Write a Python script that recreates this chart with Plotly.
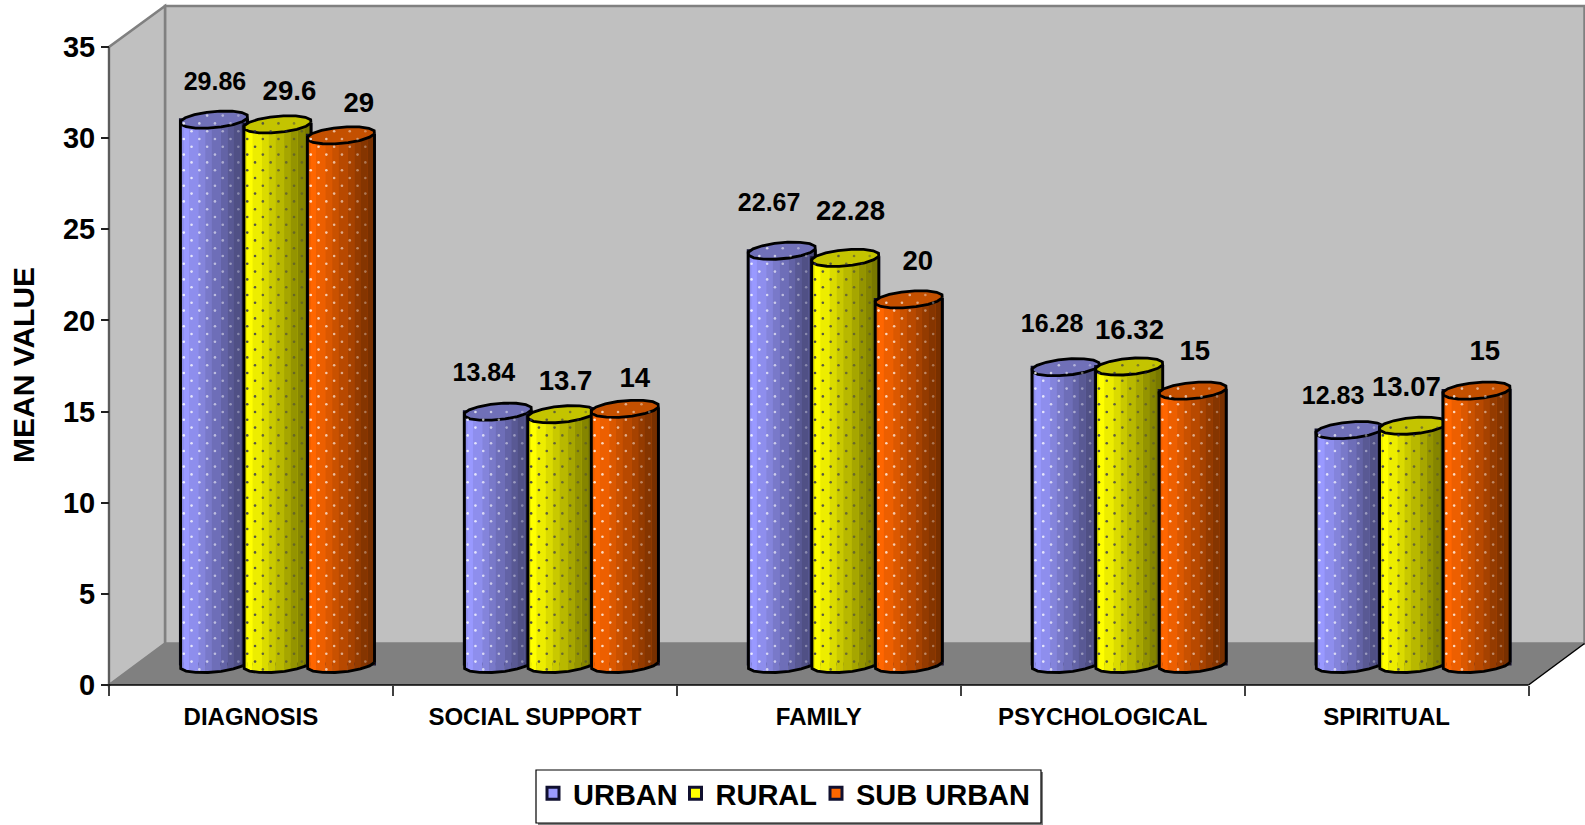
import numpy as np
import plotly.graph_objects as go

# ---- data ----
categories = ["DIAGNOSIS", "SOCIAL SUPPORT", "FAMILY", "PSYCHOLOGICAL", "SPIRITUAL"]
series_names = ["URBAN", "RURAL", "SUB URBAN"]
urban = [29.86, 13.84, 22.67, 16.28, 12.83]
rural = [29.6, 13.7, 22.28, 16.32, 13.07]
sub_urban = [29, 14, 20, 15, 15]
y_ticks = [0, 5, 10, 15, 20, 25, 30, 35]

# ---- geometry and style ----
W, H = 1585, 825
X0_PX, Y0_PX = 109.0, 685.0          # front origin of the 3-D box
PX_X, PX_Y = 283.9, 18.23            # pixels per category / per value unit
x_range = [-X0_PX / PX_X, (W - X0_PX) / PX_X]
y_range = [(Y0_PX - H) / PX_Y, Y0_PX / PX_Y]

DEPTH_X, DEPTH_Y = 56 / PX_X, 41.5 / PX_Y      # full box depth
MID_X, MID_Y = 26.5 / PX_X, 21 / PX_Y          # where cylinders stand
SPACING = 63.5 / PX_X
A, B, SHEAR, TILT = 33.5, 8.5, 6.0, 1.5        # cap ellipse (pixels)
WALL_TOP = (Y0_PX - 6) / PX_Y
OUTLINE = 2.8

strip_edges = [0, .05, .13, .27, .37, .47, .60, .70, .80, .90, 1]
strip_gain = [.92, 1, .93, .86, .79, .72, .65, .58, .52, .47]
base_rgb = [(153, 153, 255), (255, 255, 0), (255, 102, 0)]
cap_colors = ["#7070B8", "#C4C400", "#C45000"]
dot_colors = ["255,255,255", "38,38,90", "255,255,255"]
label_size = [25, 27.6, 27.6]
label_dx = [[1, -14, -12.6, -13.5, -16.4], [12, 4.2, 5.3, .4, -6.6], [17.8, 9.9, 9, 2.1, 8.3]]
label_dy = [[36.2, 37.2, 46, 41.2, 32.4], [30.9, 30.7, 45.1, 34.5, 36.2], [29.8, 28.3, 36.1, 37.2, 37.2]]
legend_left = [533, 675.5, 816]
legend_ids = ["legend", "legend2", "legend3"]
BOX_L, BOX_R, BOX_T, BOX_B = 536, 1041, 770, 823

FONT = "Liberation Sans"


def cap_points(theta):
    """offsets in pixels of the elliptical rim, x right and y up"""
    return A * np.cos(theta) + SHEAR * np.sin(theta), B * np.sin(theta) + TILT * np.cos(theta)


low_x, low_y = cap_points(np.linspace(np.pi, 2 * np.pi, 9))
up_x, up_y = cap_points(np.linspace(np.pi, 0, 9))

fig = go.Figure()
all_series = [urban, rural, sub_urban]

for s, values in enumerate(all_series):
    suffix = "" if s == 0 else str(s + 1)
    axes = dict(xaxis="x" + suffix, yaxis="y" + suffix)
    centers = np.arange(5) + .5 + MID_X + (s - 1) * SPACING
    v = np.array(values, dtype=float)
    r, g, b = base_rgb[s]

    # main bar carries the data and the legend entry
    fig.add_trace(go.Bar(x=centers, y=v, base=MID_Y, width=2 * A / PX_X, name=series_names[s],
                         legend=legend_ids[s],
                         marker=dict(color=f"rgb({r},{g},{b})", line=dict(color="#101030", width=[3] * 5)),
                         hoverinfo="skip", **axes))
    # shaded strips round the cylinder
    for k, gain in enumerate(strip_gain):
        left, right = strip_edges[k], strip_edges[k + 1]
        off_px = ((left + right) / 2 * 2 - 1) * A
        base_here = MID_Y + np.interp(off_px, low_x, low_y) / PX_Y
        fig.add_trace(go.Bar(x=centers + off_px / PX_X, y=v, base=[base_here] * 5,
                             width=(right - left) * 2 * A / PX_X + .0008, showlegend=False,
                             marker=dict(color=f"rgb({r*gain:.0f},{g*gain:.0f},{b*gain:.0f})", line=dict(width=0)),
                             hoverinfo="skip", **axes))

    # caps
    cap_x, cap_y = [], []
    th = np.linspace(0, 2 * np.pi, 17)
    ox, oy = cap_points(th)
    for c, val in zip(centers, v):
        cap_x += list(c + ox / PX_X) + [None]
        cap_y += list(val + MID_Y + oy / PX_Y) + [None]
    fig.add_trace(go.Scatter(x=cap_x, y=cap_y, mode="lines", fill="toself", fillcolor=cap_colors[s],
                             line=dict(color="black", width=OUTLINE), showlegend=False, hoverinfo="skip", **axes))

    # dotted texture of the fill
    dot_x, dot_y, dot_c = [], [], []
    step = 7.8
    for c, val in zip(centers, v):
        for col in range(-4, 5):
            off = col * step + 1
            u = off / A
            if abs(u) > .95:
                continue
            y_lo = np.interp(off, low_x, low_y) / PX_Y + MID_Y + .15
            y_hi = val + MID_Y + np.interp(off, up_x, up_y) / PX_Y - .15
            ys = np.arange(np.ceil(y_lo * PX_Y / step), y_hi * PX_Y / step) * step
            ys = ys[(np.round(ys / step).astype(int) + col) % 2 == 0] / PX_Y
            alpha = .85 - .3 * (u + 1)
            dot_x += [c + off / PX_X] * len(ys)
            dot_y += list(ys)
            dot_c += [f"rgba({dot_colors[s]},{alpha:.2f})"] * len(ys)
    fig.add_trace(go.Scatter(x=dot_x, y=dot_y, mode="markers", showlegend=False, hoverinfo="skip",
                             marker=dict(size=2.6, color=dot_c, line=dict(width=0)), **axes))

    # silhouette: sides and lower rim
    line_x, line_y = [], []
    for c, val in zip(centers, v):
        line_x += [c + low_x[0] / PX_X] + list(c + low_x / PX_X) + [None]
        line_y += [val + MID_Y + low_y[0] / PX_Y] + list(MID_Y + low_y / PX_Y) + [None]
        line_x += [c + low_x[-1] / PX_X, c + low_x[-1] / PX_X, None]
        line_y += [MID_Y + low_y[-1] / PX_Y, val + MID_Y + low_y[-1] / PX_Y, None]
    fig.add_trace(go.Scatter(x=line_x, y=line_y, mode="lines", line=dict(color="black", width=OUTLINE),
                             showlegend=False, hoverinfo="skip", **axes))

# data labels sit in the top layer
for s, values in enumerate(all_series):
    centers = np.arange(5) + .5 + MID_X + (s - 1) * SPACING
    v = np.array(values, dtype=float)
    fig.add_trace(go.Scatter(
        x=centers + np.array(label_dx[s]) / PX_X,
        y=v + MID_Y + np.array(label_dy[s]) / PX_Y,
        mode="text", text=[str(t) for t in values], textposition="middle center",
        textfont=dict(family=FONT, size=label_size[s], color="black", weight="bold"),
        showlegend=False, hoverinfo="skip", xaxis="x3", yaxis="y3"))

# 3-D box
shapes = [
    dict(type="rect", x0=DEPTH_X, x1=5 + DEPTH_X, y0=DEPTH_Y, y1=WALL_TOP, fillcolor="#C0C0C0",
         line=dict(color="#808080", width=2.5)),
    dict(type="path", path=f"M 0 0 L 0 35 L {DEPTH_X} {WALL_TOP} L {DEPTH_X} {DEPTH_Y} Z",
         fillcolor="#C0C0C0", line=dict(color="#808080", width=2.5)),
    dict(type="path", path=f"M 0 0 L 5 0 L {5 + DEPTH_X} {DEPTH_Y} L {DEPTH_X} {DEPTH_Y} Z",
         fillcolor="#808080", line=dict(width=0)),
    dict(type="line", x0=0, x1=0, y0=0, y1=35, line=dict(color="#505050", width=1.5)),
    dict(type="line", x0=0, x1=5, y0=0, y1=0, line=dict(color="black", width=1.5)),
    dict(type="line", x0=5, x1=5 + DEPTH_X, y0=0, y1=DEPTH_Y, line=dict(color="black", width=1.5)),
]
for sh in shapes:
    sh.update(layer="below", xref="x", yref="y")

# legend frame with its drop shadow
shapes.append(dict(type="rect", xref="paper", yref="paper", layer="below",
                   x0=(BOX_L + 2) / W, x1=(BOX_R + 2) / W, y0=1 - (BOX_B + 2) / H, y1=1 - (BOX_T + 2) / H,
                   fillcolor="#808080", line=dict(width=0)))
shapes.append(dict(type="rect", xref="paper", yref="paper", layer="below",
                   x0=BOX_L / W, x1=BOX_R / W, y0=1 - BOX_B / H, y1=1 - BOX_T / H,
                   fillcolor="white", line=dict(color="black", width=1.2)))

hidden = dict(visible=False, showgrid=False, zeroline=False)
legend_style = {
    legend_ids[s]: dict(x=legend_left[s] / W, xanchor="left", y=1 - 768 / H, yanchor="top",
                        bgcolor="rgba(0,0,0,0)", borderwidth=0,
                        font=dict(family=FONT, size=29, color="black", weight="bold"), itemwidth=30)
    for s in range(3)
}
fig.update_layout(
    width=W, height=H, margin=dict(l=0, r=0, t=0, b=0, pad=0, autoexpand=False),
    paper_bgcolor="white", plot_bgcolor="rgba(0,0,0,0)", barmode="overlay", shapes=shapes,
    font=dict(family=FONT, color="black"),
    xaxis=dict(domain=[0, 1], range=x_range, anchor="free", position=(H - Y0_PX) / H, showgrid=False,
               zeroline=False, showline=False, tickmode="array", tickvals=[i + .5 for i in range(5)],
               ticktext=categories, ticks="", ticklabelstandoff=15,
               tickfont=dict(family=FONT, size=24, color="black", weight="bold"),
               minor=dict(tickmode="array", tickvals=list(range(6)), ticks="outside", ticklen=10,
                          tickcolor="#404040", tickwidth=1.5, showgrid=False)),
    yaxis=dict(domain=[0, 1], range=y_range, anchor="free", position=X0_PX / W, showgrid=False,
               zeroline=False, showline=False, tickmode="array", tickvals=y_ticks, ticks="outside",
               ticklen=8, tickcolor="#202020", tickwidth=1.5,
               tickfont=dict(family=FONT, size=29, color="black", weight="bold")),
    xaxis2=dict(range=x_range, overlaying="x", **hidden),
    yaxis2=dict(range=y_range, overlaying="y", **hidden),
    xaxis3=dict(range=x_range, overlaying="x", **hidden),
    yaxis3=dict(range=y_range, overlaying="y", **hidden),
    annotations=[dict(text="<b>MEAN VALUE</b>", xref="paper", yref="paper", x=24 / W, y=1 - 365 / H,
                      textangle=-90, showarrow=False, xanchor="center", yanchor="middle",
                      font=dict(family=FONT, size=30, color="black"))],
    **legend_style,
)

fig.write_html("out.html", config=dict(displayModeBar=False),
               post_script="document.body.style.margin='0';document.documentElement.style.overflow='hidden';")
